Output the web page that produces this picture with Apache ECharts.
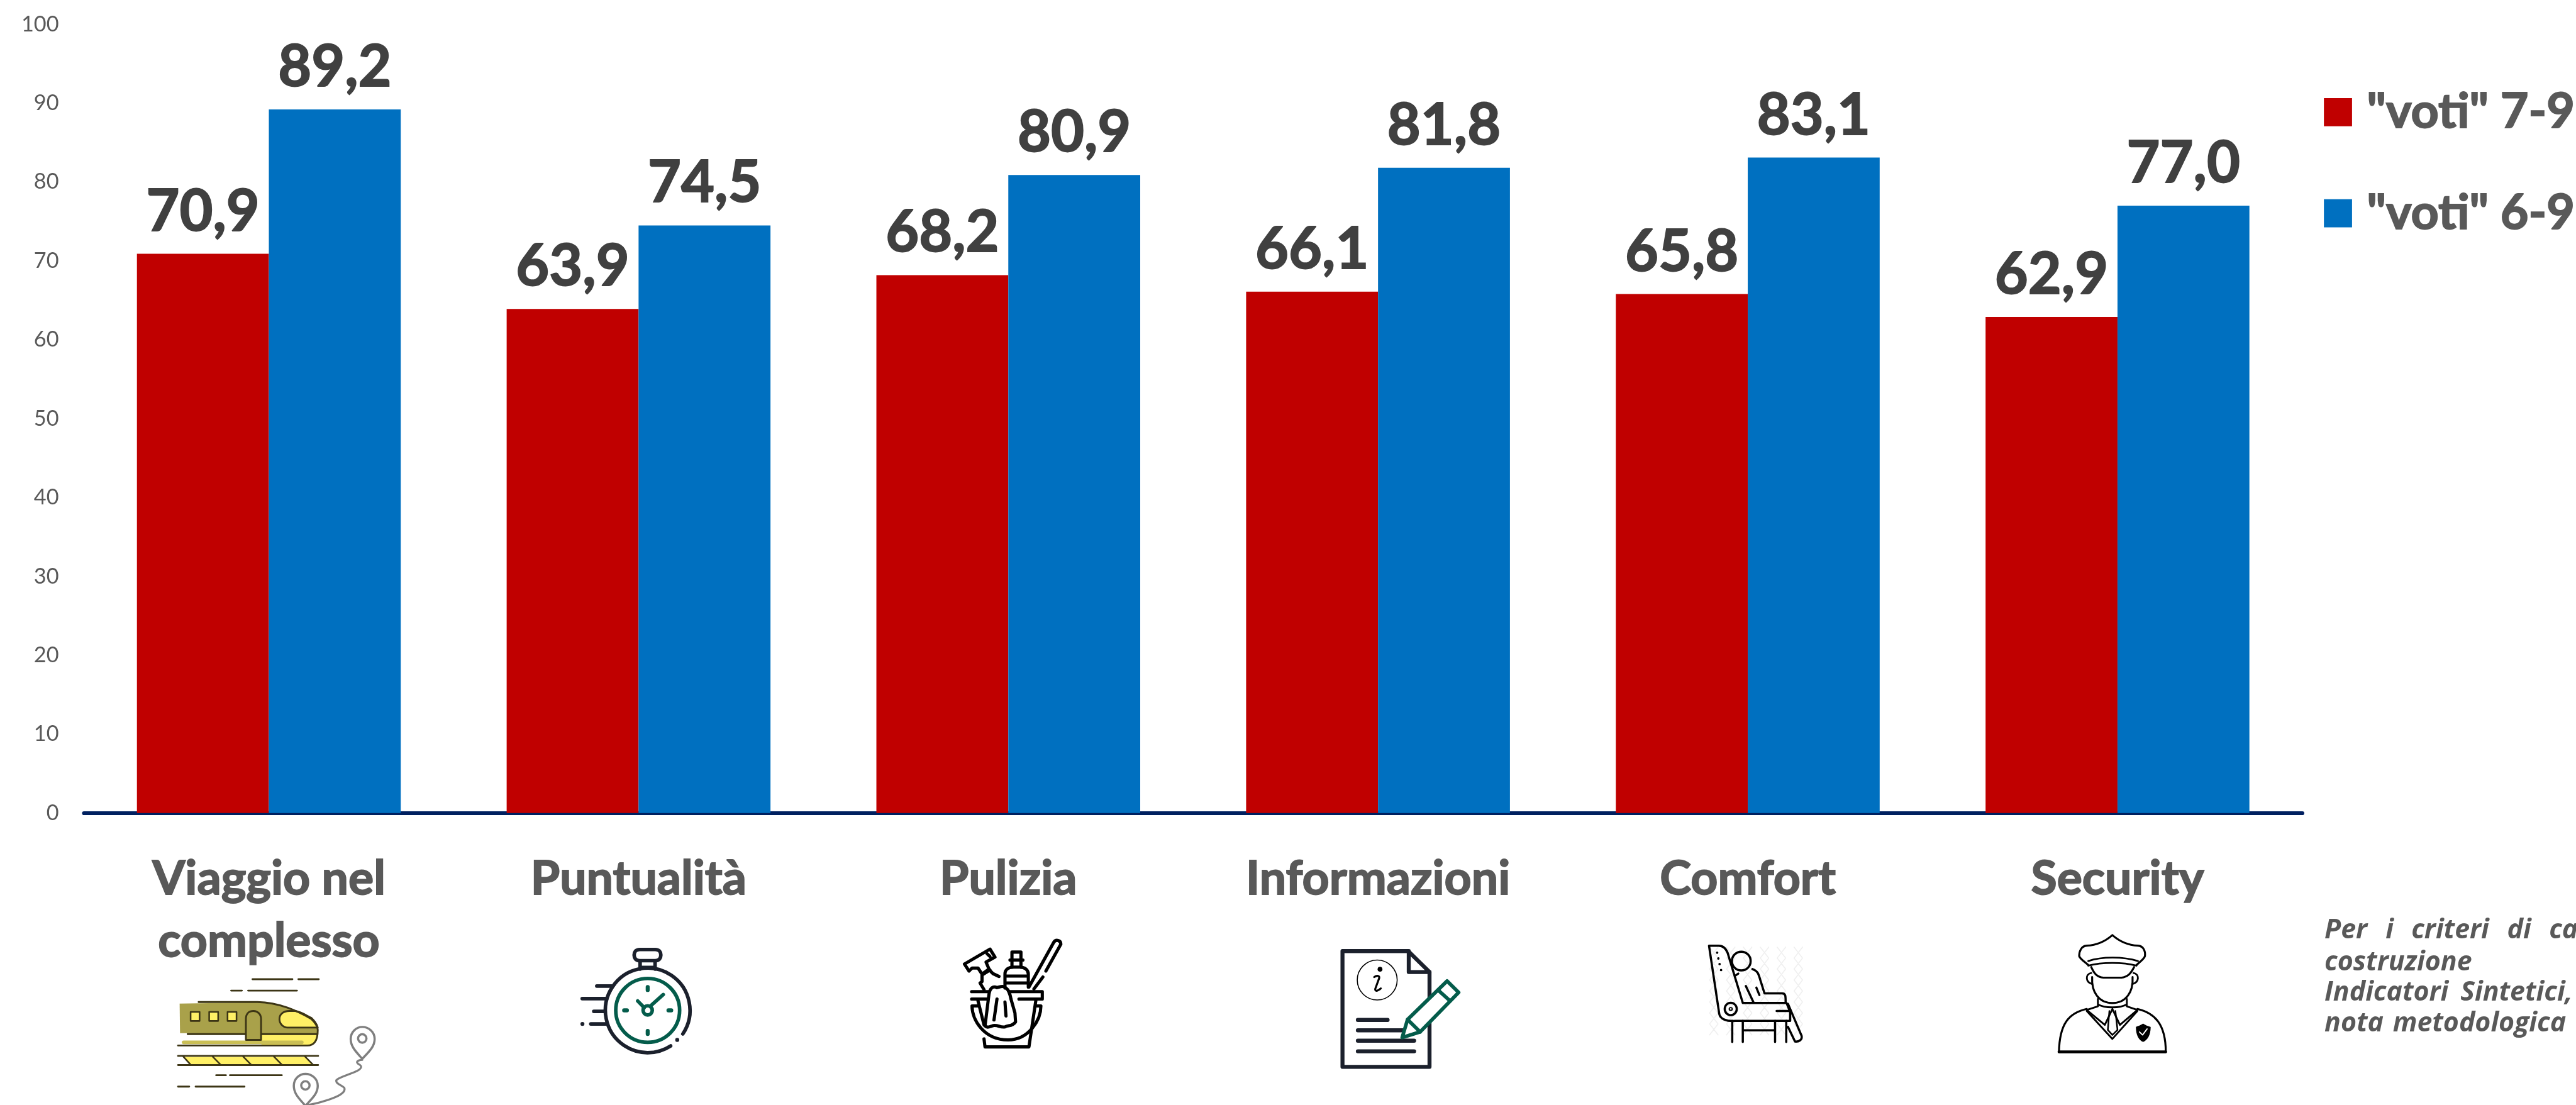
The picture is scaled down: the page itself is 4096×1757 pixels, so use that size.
<!DOCTYPE html>
<html>
<head>
<meta charset="utf-8" />
<title>Indicatori sintetici</title>
<script src="https://cdn.jsdelivr.net/npm/echarts@6/dist/echarts.min.js"></script>
<style>
html, body { margin: 0; padding: 0; background: #fff; }
#chart { width: 4096px; height: 1757px; }
</style>
</head>
<body>
<div id="chart"></div>
<script>
var categories = ['Viaggio nel\ncomplesso', 'Puntualità', 'Pulizia', 'Informazioni', 'Comfort', 'Security'];
var voti79 = [70.9, 63.9, 68.2, 66.1, 65.8, 62.9];
var voti69 = [89.2, 74.5, 80.9, 81.8, 83.1, 77.0];
var seriesNames = ['"voti" 7-9', '"voti" 6-9'];
var noteLines = [
	['Per', 'i', 'criteri', 'di', 'ca'],
	['costruzione'],
	['Indicatori', 'Sintetici,'],
	['nota', 'metodologica']
];

// everything below is measured on the 4302 wide reference, then scaled
var k = 4096 / 4302;
var FONT = 'Lato, "Open Sans", sans-serif';
var DARK = '#1B202C', GREEN = '#045C4B', OLIVE = '#A9A14A', YEL = '#FFF066', TR = '#3C3515', GREY = '#7F7F7F';

function circ(cx, cy, r) {
	return 'M' + (cx - r) + ' ' + cy + 'A' + r + ' ' + r + ' 0 1 1 ' + (cx + r) + ' ' + cy + 'A' + r + ' ' + r + ' 0 1 1 ' + (cx - r) + ' ' + cy + 'Z';
}
function ell(cx, cy, rx, ry) {
	return 'M' + (cx - rx) + ' ' + cy + 'A' + rx + ' ' + ry + ' 0 1 1 ' + (cx + rx) + ' ' + cy + 'A' + rx + ' ' + ry + ' 0 1 1 ' + (cx - rx) + ' ' + cy + 'Z';
}
// the last zoom crop came back wider than tall, this puts its x back to 3x
var XF = 3 / (1568 / 790);
function sq(d) {
	return d.replace(/([MLCHV])([^MLCHVZ]*)/g, function (m, c, args) {
		if (c === 'V') return m;
		var nums = args.trim().split(/\s+/).map(function (n, i) {
			return (c === 'H' || i % 2 === 0) ? (+n * XF).toFixed(1) : n;
		});
		return c + nums.join(' ') + ' ';
	});
}

// the graphic component has no path type, icons go through a custom series
var iconEls = [];
function icon(ox, oy, items) {
	items.forEach(function (it) {
		iconEls.push({
			type: 'path', x: ox * k, y: oy * k, scaleX: k / 3, scaleY: k / 3,
			shape: { pathData: it[0] },
			style: { stroke: it[1] || null, lineWidth: it[2] || 0, fill: it[3] || 'none', lineCap: 'round', lineJoin: 'round' }
		});
	});
}

// train
icon(280, 1620, [
	['M60 168L450 162C560 165 660 205 720 240L752 290L752 322L62 316Z', null, 0, OLIVE],
	['M470 322L752 322C752 360 735 378 700 378L470 378Z', null, 0, YEL],
	['M610 205C575 205 560 225 560 245C560 270 580 288 600 288L752 288C745 265 735 255 720 240C690 225 670 210 640 205Z', TR, 9, YEL],
	['M80 362L672 362', '#CABF55', 18],
	['M155 160L450 160C560 162 650 205 720 245C740 265 752 285 752 300C752 350 735 378 700 378L52 378', TR, 9],
	['M100 321H390M470 321H750', TR, 9],
	['M392 350L392 245C392 215 410 205 430 205C450 205 468 220 468 245L468 350Z', TR, 9, OLIVE],
	['M115 210H160V255H115Z', TR, 8, YEL],
	['M208 210H253V255H208Z', TR, 8, YEL],
	['M300 210H345V255H300Z', TR, 8, YEL],
	['M78 435L115 472L730 472L690 435Z', null, 0, YEL],
	['M52 430H754M52 476H754', TR, 9],
	['M78 433L115 474M225 433L265 474M378 433L418 474M532 433L572 474M688 433L728 474', TR, 8],
	['M425 46H625M655 46H757M318 103H372M403 103H648M243 527H292M312 527H572M52 584H108M140 584H385', TR, 9]
]);
// map pins and route
icon(470, 1620, [
	['M405 445C375 410 347 385 347 345C347 310 375 285 405 285C437 285 467 310 467 345C467 385 437 410 405 445Z', GREY, 11],
	[circ(405, 343, 21), GREY, 11],
	['M120 680C90 645 62 620 62 580C62 545 90 520 120 520C152 520 182 545 182 580C182 620 152 645 120 680Z', GREY, 11],
	[circ(120, 578, 21), GREY, 11],
	['M405 450C385 450 370 460 385 470C405 480 405 490 380 505C340 525 290 535 275 552C270 570 300 575 315 590C325 615 280 635 235 650C200 662 160 672 125 678', GREY, 10]
]);
// stopwatch
icon(955, 1570, [
	['M556 470A212 212 0 1 0 495 530', DARK, 18],
	[circ(528, 500, 10), null, 0, DARK],
	['M340 47H418C438 47 446 60 446 75C446 90 438 103 418 103H340C320 103 312 90 312 75C312 60 320 47 340 47Z', DARK, 18],
	['M342 105V145M417 105V145M342 137H417', DARK, 18],
	['M125 230H205M52 293H175M110 357H165M95 420H170', DARK, 18],
	[circ(53, 420, 10), null, 0, DARK],
	[circ(380, 352, 160), GREEN, 18],
	['M380 235V250M380 455V470M262 352H276M484 352H498', GREEN, 20],
	['M330 305L362 338M400 325L458 273', GREEN, 18],
	[circ(380, 352, 23), GREEN, 18]
]);
// bucket
icon(1590, 1560, [
	['M62 150L190 75L215 115L170 140L185 175L150 200L130 170L100 170L85 185Z', '#000', 16],
	['M175 98L190 112M150 205L190 180M185 178L205 198L235 212M150 205L150 238L140 245L160 278', '#000', 16],
	['M300 90H345V130H300ZM290 130H355M300 130V165M345 130V165', '#000', 16],
	['M265 270V200C265 175 285 165 310 165H340C365 165 382 180 382 200V265M268 210H380M268 245H380', '#000', 16],
	['M385 265L510 40C520 25 545 30 545 50L470 185M455 215L410 275', '#000', 16],
	['M98 288H185M290 288H452V325H335M98 325H180', '#000', 16],
	['M130 335L160 455M420 330L385 565H165L160 525', '#000', 16],
	['M100 360C100 430 160 530 280 530C385 530 445 430 445 360M100 360H130M445 360H420', '#000', 16],
	['M165 460L185 300C190 270 205 258 225 268C240 265 255 255 270 270C285 280 290 300 295 325L315 395L318 440C300 465 280 455 265 465C240 470 225 450 200 460C185 465 175 470 165 460', '#000', 16],
	['M225 325L210 430M265 340L270 410', '#000', 16]
]);
// info sheet
icon(2230, 1580, [
	['M36 25H365L472 130V605H36Z', DARK, 20],
	['M368 25V130H472', DARK, 20],
	['M113 370H262M113 422H340M113 474H395M113 527H395', DARK, 20],
	[circ(210, 170, 100), '#000', 5],
	[circ(224, 116, 12), null, 0, '#000'],
	['M195 155C210 145 222 148 220 160L200 215C198 228 212 226 228 212', '#000', 10],
	['M335 458L362 368L560 175L618 232L425 430Z', GREEN, 18, '#fff'],
	['M362 368L425 430M517 222L572 272', GREEN, 18]
]);
// seat, the pale lattice first
var lattice = '';
for (var lx = 30; lx < 320; lx += 56) {
	lattice += 'M' + (lx * XF) + ' 65';
	lattice += 'L' + ((lx + 28) * XF) + ' 120L' + (lx * XF) + ' 175L' + ((lx + 28) * XF) + ' 230L' + (lx * XF) + ' 285L' + ((lx + 28) * XF) + ' 340L' + (lx * XF) + ' 395L' + ((lx + 28) * XF) + ' 450L' + (lx * XF) + ' 505';
	lattice += 'M' + ((lx + 28) * XF) + ' 65';
	lattice += 'L' + (lx * XF) + ' 120L' + ((lx + 28) * XF) + ' 175L' + (lx * XF) + ' 230L' + ((lx + 28) * XF) + ' 285L' + (lx * XF) + ' 340L' + ((lx + 28) * XF) + ' 395L' + (lx * XF) + ' 450L' + ((lx + 28) * XF) + ' 505';
}
icon(2840, 1560, [
	[lattice, '#EFEFEF', 5],
	[sq('M28 58L62 400C65 425 85 438 115 435H297V390L285 345H140L90 95C85 75 75 58 60 58Z'), '#000', 11],
	[ell(100 * XF, 375, 20 * XF, 31), '#000', 11],
	[ell(100 * XF, 375, 5 * XF, 7), '#000', 6],
	[circ(55 * XF, 93, 6), null, 0, '#000'],
	[circ(59 * XF, 122, 6), null, 0, '#000'],
	[circ(63 * XF, 150, 6), null, 0, '#000'],
	[circ(68 * XF, 180, 6), null, 0, '#000'],
	[ell(135 * XF, 135, 31 * XF, 47), '#000', 11],
	[sq('M172 175C190 185 192 200 197 225L212 297H270C282 297 282 310 282 340M118 205L125 198M150 260L175 340M185 268L195 305M252 385H295'), '#000', 11],
	[sq('M105 435V540M140 435V540M247 435V540M284 435V540M140 482H247'), '#000', 11],
	[sq('M290 350L335 510C338 530 325 540 313 538L290 465'), '#000', 11]
]);
// officer
icon(2840, 1560, [
	[sq('M1365 5C1350 25 1320 55 1280 58C1262 60 1255 85 1255 110C1258 125 1275 140 1285 155M1365 5C1380 25 1410 55 1450 58C1468 60 1475 85 1473 110C1470 125 1455 140 1445 155'), '#000', 10],
	[sq('M1285 135C1330 112 1400 112 1450 135M1285 158C1330 140 1400 140 1445 158'), '#000', 9],
	[sq('M1295 165C1305 200 1315 215 1335 218H1395C1415 215 1425 200 1437 165'), '#000', 10],
	[sq('M1295 195C1275 200 1275 240 1298 250M1435 195C1455 200 1455 240 1432 250'), '#000', 9],
	[sq('M1298 215C1295 290 1320 345 1365 345C1410 345 1435 290 1432 215'), '#000', 10],
	[sq('M1317 325V362L1280 380L1340 455L1365 375L1390 455L1448 380L1413 362V325M1317 352C1340 372 1390 372 1413 352'), '#000', 9],
	[sq('M1355 385L1350 480L1365 505L1382 480L1375 385'), '#000', 8],
	[sq('M1280 385L1365 525L1448 385'), '#000', 9],
	[sq('M1280 375C1220 395 1190 450 1188 590H1542C1542 450 1505 395 1448 375'), '#000', 10],
	[sq('M1188 590H1542'), '#000', 14],
	[sq('M1467 448C1455 460 1445 462 1443 465C1443 505 1452 530 1467 540C1482 530 1492 505 1492 465C1488 462 1478 460 1467 448Z'), null, 0, '#000'],
	[sq('M1455 490L1465 505L1480 475'), '#fff', 6]
]);

// note on the right, justified in the source so words sit at their own x
var graphics = [];
var noteX = [[3882, 3984, 4027, 4187, 4257], [3882], [3882, 4109], [3882, 3996]];
var noteY = [1565, 1618, 1669, 1720];
noteLines.forEach(function (words, i) {
	words.forEach(function (w, j) {
		graphics.push({
			type: 'text', silent: true, x: noteX[i][j] * k, y: (noteY[i] + 12) * k,
			style: { text: w, fill: '#595959', font: 'italic bold ' + (45 * k) + 'px "Open Sans", sans-serif', verticalAlign: 'bottom' }
		});
	});
});

function valueLabel(color) {
	return {
		show: true, position: 'top', distance: 22 * k, color: color,
		fontFamily: FONT, fontWeight: 'bold', fontSize: 96 * k,
		textBorderColor: color, textBorderWidth: 2 * k,
		formatter: function (p) { return p.value.toFixed(1).replace('.', ','); }
	};
}

var myChart = echarts.init(document.getElementById('chart'), null, { renderer: 'canvas' });
myChart.setOption({
	animation: false,
	backgroundColor: '#fff',
	grid: { left: 140.25 * k, right: (4302 - 3845) * k, top: 40.5 * k, bottom: (1845 - 1357.5) * k, containLabel: false },
	legend: {
		orient: 'vertical', left: 3881 * k, top: 146 * k, padding: 0,
		itemWidth: 47 * k, itemHeight: 47 * k, itemGap: 86 * k, selectedMode: false,
		icon: 'rect',
		textStyle: {
			fontFamily: FONT, fontWeight: 'bold', fontSize: 81 * k, lineHeight: 47 * k, color: '#595959',
			padding: [0, 0, 0, 19.5 * k], textBorderColor: '#595959', textBorderWidth: 2 * k
		},
		data: seriesNames
	},
	xAxis: {
		type: 'category', data: categories,
		axisLine: { lineStyle: { color: '#002060', width: 6.5 * k } },
		axisTick: { show: false },
		axisLabel: {
			interval: 0, margin: 58 * k, color: '#595959', fontFamily: FONT, fontWeight: 'bold',
			fontSize: 79 * k, lineHeight: 104 * k, verticalAlign: 'top',
			textBorderColor: '#595959', textBorderWidth: 2 * k
		}
	},
	yAxis: {
		type: 'value', min: 0, max: 100, interval: 10,
		axisLine: { show: false }, axisTick: { show: false }, splitLine: { show: false },
		axisLabel: { margin: 42 * k, color: '#595959', fontFamily: FONT, fontSize: 36 * k }
	},
	series: [
		{ name: seriesNames[0], type: 'bar', data: voti79, barWidth: 220.3 * k, barGap: 0, itemStyle: { color: '#C00000' }, label: valueLabel('#404040') },
		{ name: seriesNames[1], type: 'bar', data: voti69, barWidth: 220.3 * k, barGap: 0, itemStyle: { color: '#0070C0' }, label: valueLabel('#404040') },
		{
			type: 'custom', coordinateSystem: 'none', silent: true, data: [0], z: 5,
			renderItem: function () { return { type: 'group', children: iconEls }; }
		}
	],
	graphic: { elements: graphics }
});
</script>
</body>
</html>
